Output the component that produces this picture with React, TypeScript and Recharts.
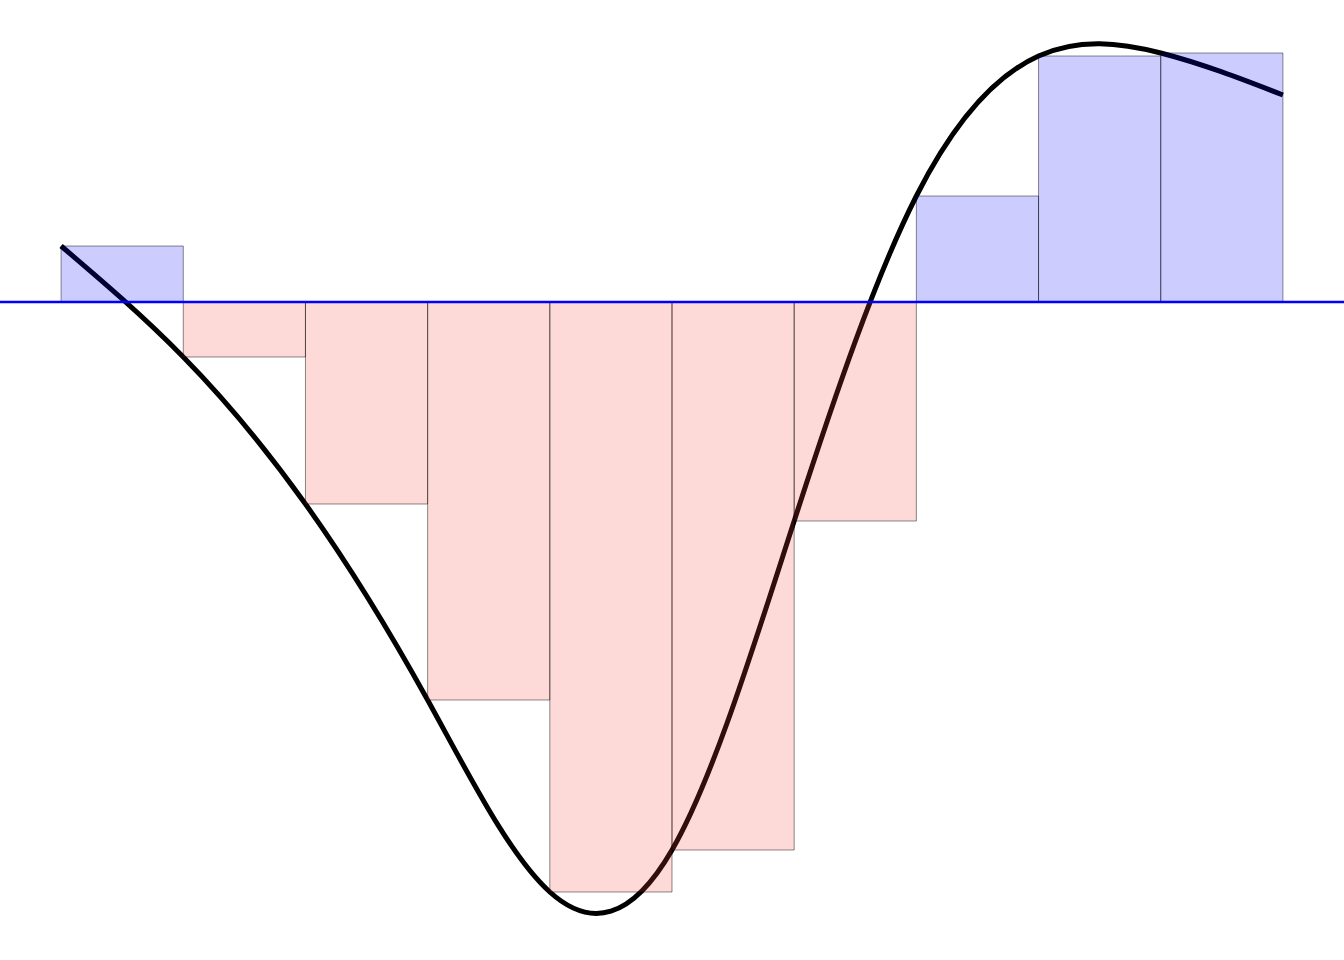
import {
  ComposedChart,
  Line,
  ReferenceArea,
  ReferenceLine,
  XAxis,
  YAxis,
} from "recharts";

// curve samples at the bar edges, x in bar units (0..10)
const curveX = [0, 1, 2, 3, 4, 5, 6, 7, 8, 9, 10];
const curveY = [
  0.56, -0.55, -2.02, -3.98, -5.9, -5.48, -2.19, 1.06, 2.46, 2.49, 2.07,
];

// left-endpoint rectangles
const barStart = [0, 1, 2, 3, 4, 5, 6, 7, 8, 9];
const barValue = [0.56, -0.55, -2.02, -3.98, -5.9, -5.48, -2.19, 1.06, 2.46, 2.49];

const curve = curveX.map((x, i) => ({ x, y: curveY[i] }));

export default function App() {
  return (
    <div style={{ position: "absolute", left: 0, top: 0 }}>
      <ComposedChart
        width={1344}
        height={960}
        data={curve}
        margin={{ top: 0, right: 0, bottom: 0, left: 0 }}
      >
        <XAxis
          dataKey="x"
          type="number"
          domain={[-0.5, 10.5]}
          hide
          allowDataOverflow
        />
        <YAxis type="number" domain={[-6.58, 3.02]} hide allowDataOverflow />
        <Line
          dataKey="y"
          type="natural"
          stroke="#000"
          strokeWidth={5}
          dot={false}
          activeDot={false}
          isAnimationActive={false}
          zIndex={400}
        />
        {barStart.map((s, i) => (
          <ReferenceArea
            key={i}
            x1={s}
            x2={s + 1}
            y1={0}
            y2={barValue[i]}
            fill={barValue[i] >= 0 ? "#0000ff" : "#f44336"}
            fillOpacity={0.2}
            stroke="#000"
            strokeOpacity={0.45}
            strokeWidth={1}
            zIndex={450}
          />
        ))}
        <ReferenceLine y={0} stroke="#0000ff" strokeWidth={2.5} zIndex={500} />
      </ComposedChart>
    </div>
  );
}
